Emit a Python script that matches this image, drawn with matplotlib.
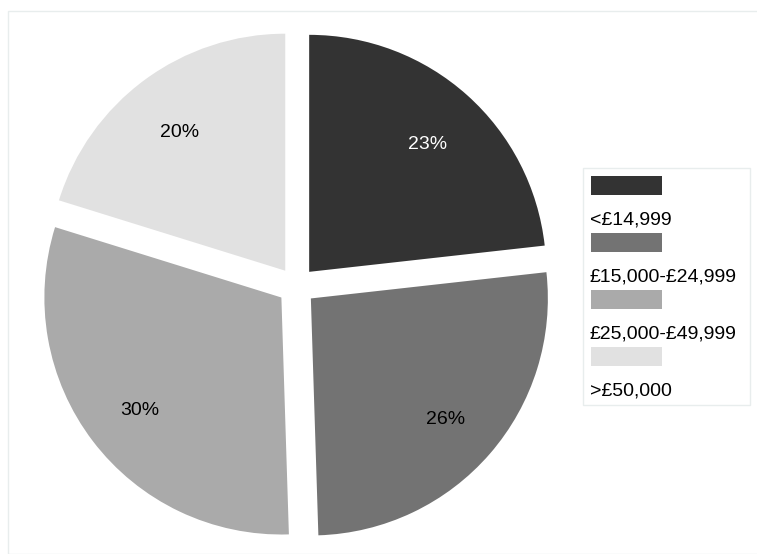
import matplotlib.pyplot as plt
from matplotlib.patches import Rectangle

plt.rcParams['font.family'] = ['Liberation Sans', 'DejaVu Sans']

# income bands and their share
labels = ['<£14,999', '£15,000-£24,999', '£25,000-£49,999', '>£50,000']
shares = [23, 26, 30, 20]
colors = ['#333333', '#737373', '#aaaaaa', '#e1e1e1']
pct_colors = ['white', 'black', 'black', 'black']

W, H = 757, 554
fig = plt.figure(figsize=(W / 100, H / 100), dpi=100)

# faint outer frame
fig.patches.append(Rectangle((8 / W, 0), 1, 1 - 11 / H, transform=fig.transFigure,
                             fill=False, edgecolor='#e8eded', linewidth=1))

# axes in pixel units so the pie can be placed exactly
ax = fig.add_axes([0, 0, 1, 1])
# explode is in data units here (pixels), not a fraction of the radius
wedges, texts, autotexts = ax.pie(
    shares, colors=colors, startangle=90, counterclock=False,
    explode=[19] * len(shares), radius=237, center=(296.5, H - 286),
    autopct='%.0f%%', pctdistance=0.75,
    textprops={'fontsize': 14}, wedgeprops={'linewidth': 0})
for t, c in zip(autotexts, pct_colors):
    t.set_color(c)
    x, y = t.get_position()
    t.set_position((x, y - 5))
ax.set_xlim(0, W)
ax.set_ylim(0, H)
ax.set_aspect('equal')
ax.axis('off')

# legend: swatch above each label
lx0, ly0, lx1, ly1 = 583, 168, 750, 405
ax.add_patch(Rectangle((lx0, H - ly1), lx1 - lx0, ly1 - ly0, fill=False,
                       edgecolor='#e8eded', linewidth=1))
for i, (lab, col) in enumerate(zip(labels, colors)):
    top = 176 + i * 57
    ax.add_patch(Rectangle((591, H - top - 19), 71, 19, facecolor=col, linewidth=0))
    ax.text(590, H - (top + 44), lab, fontsize=14, va='center', ha='left')

fig.savefig('out.png', dpi=100)
